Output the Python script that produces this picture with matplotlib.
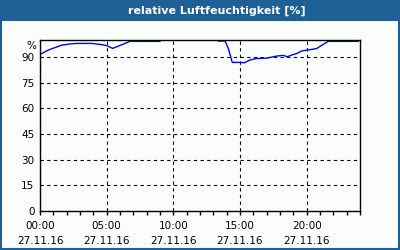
import numpy as np
import matplotlib
matplotlib.use("Agg")
from matplotlib import pyplot as plt

# hours since 00:00 and relative humidity in %, two recorded stretches
hours_a = [0.05, 0.62, 1.1, 1.63, 2.25, 2.75, 3.88, 4.63, 5.0, 5.45, 5.87, 6.37, 6.75, 9.0]
rh_a = [91.8, 94.1, 95.5, 97.0, 97.7, 98.0, 98.0, 97.3, 96.7, 95.1, 96.4, 98.0, 99.2, 99.2]

hours_b = [13.37, 13.88, 14.12, 14.42, 15.0, 15.32, 15.75, 16.25, 17.0, 17.75, 18.25, 18.55,
           18.88, 19.25, 19.63, 20.12, 20.75, 21.25, 21.62, 23.87]
rh_b = [99.4, 99.4, 95.1, 86.9, 86.9, 86.7, 88.3, 89.2, 89.4, 90.6, 91.0, 90.2,
        91.2, 92.1, 93.6, 94.2, 95.0, 97.5, 99.2, 99.2]

x_ticks = [0, 5, 10, 15, 20]
x_labels = ["00:00\n27.11.16", "05:00\n27.11.16", "10:00\n27.11.16", "15:00\n27.11.16", "20:00\n27.11.16"]
y_ticks = [0, 15, 30, 45, 60, 75, 90]

title = "relative Luftfeuchtigkeit [%]"
frame_blue = "#1e6096"
bg = "#fafdfa"

fig = plt.figure(figsize=(4, 2.5), dpi=100, facecolor=bg)

# blue title bar and border
fig.patches.append(plt.Rectangle((0, 1 - 21 / 250), 1, 21 / 250, transform=fig.transFigure,
                                 facecolor=frame_blue, edgecolor="none", zorder=0))
fig.patches.append(plt.Rectangle((0.5 / 400, 1 / 250), 1 - 2 / 400, 1 - 2 / 250, transform=fig.transFigure,
                                 facecolor="none", edgecolor=frame_blue, linewidth=1.5, zorder=0))
fig.text(217 / 400, 1 - 10.5 / 250, title, color="white", fontsize=8, fontweight="bold",
         ha="center", va="center")

ax = fig.add_axes([40 / 400, 1 - 211 / 250, 320 / 400, 171 / 250])
ax.set_facecolor(bg)

ax.plot(hours_a, rh_a, color="#0000ff", linewidth=1)
ax.plot(hours_b, rh_b, color="#0000ff", linewidth=1)

ax.set_xlim(0, 24)
ax.set_ylim(0, 100)
ax.set_xticks(x_ticks)
ax.set_xticklabels(x_labels, fontsize=7.5, linespacing=1.6)
ax.set_xticks(range(0, 25), minor=True)
ax.set_yticks(y_ticks)
ax.set_yticklabels([str(v) for v in y_ticks], fontsize=7.5)
ax.tick_params(axis="x", which="both", direction="out", length=3, width=1, pad=4)
ax.tick_params(axis="y", length=0, pad=4)
ax.text(-0.012, 96.5, "%", transform=ax.get_yaxis_transform(), ha="right", va="center", fontsize=7.5)

ax.grid(True, which="major", color="black", linestyle=(0, (3, 3)), linewidth=0.8)

for s in ax.spines.values():
    s.set_linewidth(1)

fig.savefig("out.png", dpi=100, facecolor=bg)
